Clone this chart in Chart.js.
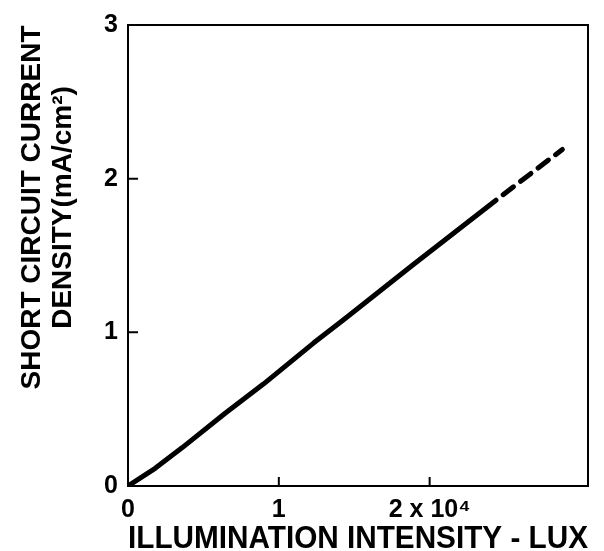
<!DOCTYPE html>
<html>
<head>
<meta charset="utf-8">
<script src="https://cdn.jsdelivr.net/npm/chart.js@4/dist/chart.umd.min.js"></script>
<style>
  html, body { margin: 0; padding: 0; background: #fff; }
  #wrap { width: 604px; height: 551px; }
</style>
</head>
<body>
<div id="wrap"><canvas id="chart" width="604" height="551"></canvas></div>
<script>
'use strict';

// ── Data ─────────────────────────────────────────────────────────
const measuredLux     = [0, 0.18, 0.36, 0.64, 0.90, 1.23, 1.44, 1.89, 2.44];   // x 10^4 lux
const measuredCurrent = [0, 0.115, 0.25, 0.47, 0.665, 0.93, 1.09, 1.44, 1.86]; // mA/cm2
const extrapLux       = [2.44, 2.88];
const extrapCurrent   = [1.86, 2.19];

const xTickValues = [0, 1, 2];
const xTickLabels = ['0', '1', '2 x 10\u2074'];
const yTickValues = [0, 1, 2, 3];
const yTickLabels = ['0', '1', '2', '3'];

const xTitle  = 'ILLUMINATION INTENSITY - LUX';
const yTitle  = ['SHORT CIRCUIT CURRENT', 'DENSITY(mA/cm\u00B2)'];

const FONT = '"Liberation Sans", Arial, sans-serif';

const toPoints = (xs, ys) => xs.map((x, i) => ({ x, y: ys[i] }));

// ── Box frame + inward tick marks + rotated y title ──────────────
const framePlugin = {
  id: 'frame',
  afterDraw(chart) {
    const { ctx, chartArea: a, scales } = chart;
    ctx.save();
    ctx.strokeStyle = '#000';
    ctx.lineWidth = 2;
    ctx.strokeRect(a.left, a.top, a.right - a.left, a.bottom - a.top);

    // inward ticks
    ctx.beginPath();
    xTickValues.slice(1).forEach(v => {
      const px = scales.x.getPixelForValue(v);
      ctx.moveTo(px, a.bottom);
      ctx.lineTo(px, a.bottom - 9);
    });
    yTickValues.slice(1, -1).forEach(v => {
      const py = scales.y.getPixelForValue(v);
      ctx.moveTo(a.left, py);
      ctx.lineTo(a.left + 10, py);
    });
    ctx.stroke();

    // y title, two rotated lines
    ctx.fillStyle = '#000';
    ctx.font = 'bold 28px ' + FONT;
    ctx.textAlign = 'center';
    ctx.textBaseline = 'middle';
    const cy = (a.top + a.bottom) / 2 - 48;
    [a.left - 96, a.left - 65].forEach((x, i) => {
      ctx.save();
      ctx.translate(x, cy);
      ctx.rotate(-Math.PI / 2);
      ctx.fillText(yTitle[i], 0, 0);
      ctx.restore();
    });
    ctx.restore();
  },
};

new Chart(document.getElementById('chart'), {
  type: 'scatter',
  data: {
    datasets: [
      {
        data: toPoints(measuredLux, measuredCurrent),
        showLine: true,
        borderColor: '#000',
        borderWidth: 5,
        pointRadius: 0,
        tension: 0,
        borderCapStyle: 'round',
        borderJoinStyle: 'round',
      },
      {
        data: toPoints(extrapLux, extrapCurrent),
        showLine: true,
        borderColor: '#000',
        borderWidth: 5,
        borderDash: [13, 9],
        borderDashOffset: -9,
        pointRadius: 0,
        borderCapStyle: 'round',
      },
    ],
  },
  options: {
    responsive: false,
    animation: false,
    layout: { padding: { left: 0, right: 16, top: 22, bottom: 0 } },
    plugins: { legend: { display: false }, tooltip: { enabled: false } },
    scales: {
      x: {
        type: 'linear',
        min: 0,
        max: 3.05,
        grid: { display: false, drawTicks: false, tickLength: 0 },
        border: { display: false },
        afterBuildTicks: s => { s.ticks = xTickValues.map(v => ({ value: v })); },
        afterFit: s => { s.height = 65; },
        ticks: {
          color: '#000',
          padding: 9,
          maxRotation: 0,
          font: { family: FONT, size: 25, weight: 'bold' },
          callback: v => xTickLabels[xTickValues.indexOf(v)],
        },
        title: {
          display: true,
          text: xTitle,
          color: '#000',
          padding: 0,
          font: { family: FONT, size: 31, weight: 'bold', lineHeight: 0.75 },
        },
      },
      y: {
        type: 'linear',
        min: 0,
        max: 3,
        grid: { display: false, drawTicks: false, tickLength: 0 },
        border: { display: false },
        afterBuildTicks: s => { s.ticks = yTickValues.map(v => ({ value: v })); },
        afterFit: s => { s.width = 128; },
        ticks: {
          color: '#000',
          padding: 10,
          font: { family: FONT, size: 25, weight: 'bold' },
          callback: v => yTickLabels[yTickValues.indexOf(v)],
        },
      },
    },
  },
  plugins: [framePlugin],
});
</script>
</body>
</html>
